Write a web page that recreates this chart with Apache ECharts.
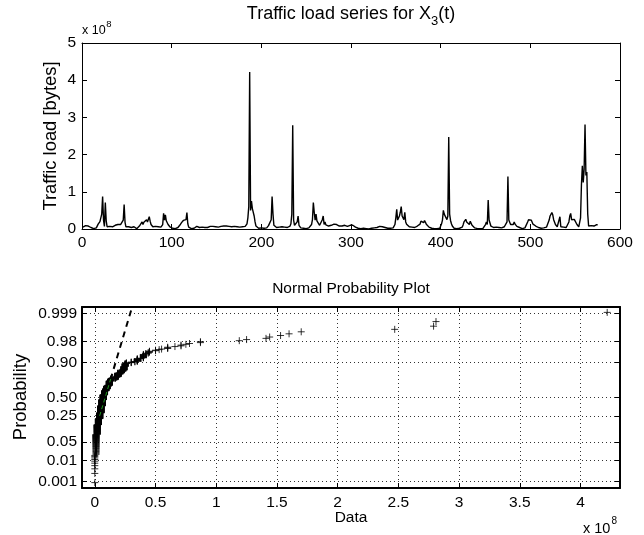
<!DOCTYPE html>
<html><head><meta charset="utf-8">
<script src="https://cdn.jsdelivr.net/npm/echarts@6/dist/echarts.min.js"></script>
<style>html,body{margin:0;padding:0;background:#fff}#c{width:644px;height:535px}</style>
</head><body><div id="c"></div>
<script>
// Traffic load X3(t), in units of 1e8 bytes, t = 1..575
const trafficLoad = [
0.05,0.07,0.08,0.09,0.08,0.07,0.08,0.09,0.06,0.04,
0.01,0.00,0.01,0.01,0.00,0.03,0.08,0.13,0.17,0.20,
0.24,0.40,0.87,0.24,0.07,0.71,0.22,0.06,0.05,0.06,
0.07,0.08,0.07,0.06,0.07,0.09,0.10,0.11,0.12,0.12,
0.13,0.12,0.12,0.12,0.17,0.24,0.66,0.18,0.06,0.03,
0.04,0.06,0.07,0.05,0.04,0.06,0.07,0.06,0.04,0.02,
0.01,0.01,0.03,0.08,0.13,0.13,0.19,0.12,0.18,0.22,
0.17,0.25,0.19,0.24,0.33,0.21,0.12,0.08,0.06,0.05,
0.06,0.07,0.05,0.04,0.06,0.07,0.06,0.05,0.09,0.12,
0.42,0.24,0.38,0.22,0.19,0.12,0.09,0.06,0.04,0.03,
0.02,0.02,0.03,0.01,0.01,0.02,0.04,0.06,0.10,0.12,
0.17,0.21,0.23,0.24,0.19,0.25,0.44,0.14,0.05,0.03,
0.01,0.01,0.02,0.03,0.02,0.04,0.05,0.07,0.06,0.05,
0.04,0.03,0.04,0.05,0.04,0.03,0.04,0.06,0.05,0.04,
0.05,0.06,0.07,0.06,0.05,0.07,0.06,0.05,0.06,0.07,
0.06,0.05,0.07,0.08,0.07,0.06,0.07,0.08,0.06,0.07,
0.08,0.07,0.06,0.07,0.08,0.07,0.06,0.07,0.06,0.07,
0.08,0.07,0.06,0.07,0.06,0.05,0.06,0.07,0.06,0.07,
0.06,0.07,0.09,0.14,0.30,0.60,4.22,0.50,0.75,0.55,
0.60,0.35,0.19,0.08,0.05,0.03,0.02,0.01,0.02,0.03,
0.02,0.01,0.02,0.03,0.02,0.03,0.05,0.09,0.11,0.12,
0.25,0.87,0.40,0.10,0.06,0.05,0.04,0.05,0.06,0.05,
0.04,0.05,0.06,0.05,0.04,0.05,0.04,0.03,0.04,0.05,
0.06,0.08,0.14,0.40,2.79,0.24,0.10,0.07,0.08,0.19,
0.35,0.10,0.05,0.03,0.02,0.01,0.02,0.03,0.02,0.01,
0.02,0.03,0.03,0.05,0.08,0.12,0.25,0.71,0.45,0.24,
0.40,0.22,0.25,0.19,0.10,0.12,0.13,0.25,0.35,0.12,
0.19,0.11,0.13,0.10,0.08,0.07,0.08,0.10,0.11,0.12,
0.13,0.11,0.12,0.12,0.10,0.09,0.08,0.07,0.09,0.08,
0.07,0.09,0.10,0.12,0.09,0.07,0.06,0.09,0.10,0.08,
0.09,0.10,0.08,0.06,0.05,0.04,0.03,0.02,0.01,0.02,
0.01,0.00,0.01,0.02,0.01,0.00,0.01,0.02,0.01,0.00,
0.01,0.02,0.02,0.01,0.02,0.03,0.04,0.03,0.04,0.05,
0.06,0.07,0.08,0.07,0.06,0.07,0.05,0.04,0.03,0.02,
0.02,0.01,0.01,0.02,0.02,0.02,0.03,0.05,0.12,0.30,
0.53,0.24,0.19,0.35,0.45,0.60,0.35,0.40,0.25,0.45,
0.19,0.13,0.13,0.10,0.06,0.05,0.04,0.05,0.06,0.05,
0.04,0.05,0.06,0.08,0.11,0.12,0.13,0.21,0.18,0.24,
0.17,0.23,0.19,0.13,0.10,0.08,0.05,0.03,0.02,0.02,
0.01,0.01,0.01,0.00,0.01,0.01,0.00,0.01,0.02,0.05,
0.14,0.24,0.50,0.40,0.35,0.40,0.25,0.35,2.47,0.40,
0.23,0.14,0.08,0.05,0.02,0.01,0.01,0.01,0.00,0.01,
0.02,0.02,0.03,0.05,0.11,0.19,0.23,0.26,0.19,0.17,
0.19,0.12,0.21,0.16,0.10,0.07,0.05,0.03,0.02,0.01,
0.01,0.00,0.01,0.01,0.01,0.00,0.01,0.02,0.05,0.12,
0.19,0.12,0.78,0.24,0.19,0.08,0.05,0.04,0.04,0.05,
0.04,0.05,0.04,0.03,0.04,0.05,0.04,0.03,0.04,0.05,
0.06,0.05,0.07,0.19,1.41,0.24,0.19,0.12,0.12,0.12,
0.12,0.19,0.13,0.10,0.07,0.06,0.05,0.04,0.03,0.02,
0.01,0.02,0.02,0.03,0.04,0.08,0.19,0.25,0.26,0.23,
0.24,0.19,0.13,0.12,0.10,0.08,0.06,0.05,0.04,0.03,
0.02,0.02,0.03,0.02,0.03,0.04,0.04,0.05,0.06,0.10,
0.24,0.35,0.40,0.44,0.38,0.25,0.24,0.12,0.08,0.06,
0.05,0.06,0.33,0.06,0.05,0.04,0.05,0.04,0.03,0.04,
0.05,0.08,0.19,0.35,0.42,0.25,0.25,0.24,0.26,0.22,
0.23,0.12,0.10,0.06,0.07,0.30,1.19,1.70,1.25,1.60,
2.81,1.44,1.53,0.40,0.08,0.06,0.07,0.09,0.10,0.09,
0.08,0.09,0.10,0.12,0.10
];
const timeTicks = [0,100,200,300,400,500,600];
const loadTicks = [0,1,2,3,4,5];
const probTicks = [0.001,0.01,0.05,0.25,0.50,0.90,0.98,0.999];
const probTickLabels = ['0.001','0.01','0.05','0.25','0.50','0.90','0.98','0.999'];
const dataTicks = [0,0.5,1,1.5,2,2.5,3,3.5,4];

const FONT = '"Liberation Sans", Arial, Helvetica, sans-serif';
const TICK_FS = 15.5;

function norminv(p){
  const a=[-3.969683028665376e+01,2.209460984245205e+02,-2.759285104469687e+02,1.383577518672690e+02,-3.066479806614716e+01,2.506628277459239e+00];
  const b=[-5.447609879822406e+01,1.615858368580409e+02,-1.556989798598866e+02,6.680131188771972e+01,-1.328068155288572e+01];
  const c=[-7.784894002430293e-03,-3.223964580411365e-01,-2.400758277161838e+00,-2.549732539343734e+00,4.374664141464968e+00,2.938163982698783e+00];
  const d=[7.784695709041462e-03,3.224671290700398e-01,2.445134137142996e+00,3.754408661907416e+00];
  const pl=0.02425, ph=1-pl; let q,r;
  if(p<pl){q=Math.sqrt(-2*Math.log(p));return (((((c[0]*q+c[1])*q+c[2])*q+c[3])*q+c[4])*q+c[5])/((((d[0]*q+d[1])*q+d[2])*q+d[3])*q+1);}
  if(p<=ph){q=p-0.5;r=q*q;return (((((a[0]*r+a[1])*r+a[2])*r+a[3])*r+a[4])*r+a[5])*q/(((((b[0]*r+b[1])*r+b[2])*r+b[3])*r+b[4])*r+1);}
  q=Math.sqrt(-2*Math.log(1-p));return -(((((c[0]*q+c[1])*q+c[2])*q+c[3])*q+c[4])*q+c[5])/((((d[0]*q+d[1])*q+d[2])*q+d[3])*q+1);
}

// normal probability plot from the series
const sorted = trafficLoad.slice().sort((x,y)=>x-y);
const n = sorted.length;
const probPoints = sorted.map((v,i)=>[v, norminv((i+0.5)/n)]);
function prctile(P){
  let pos = P/100*n + 0.5;
  if(pos<=1) return sorted[0]; if(pos>=n) return sorted[n-1];
  const lo=Math.floor(pos), f=pos-lo;
  return sorted[lo-1]*(1-f)+sorted[lo]*f;
}
const q1=prctile(25), q3=prctile(75), zq1=norminv(0.25), zq3=norminv(0.75);
const slope=(zq3-zq1)/(q3-q1);
const zOf = x => zq1 + (x-q1)*slope;
const dmin=sorted[0], dmax=sorted[n-1], rng=dmax-dmin;
const xMin2=dmin-0.025*rng, xMax2=dmax+0.025*rng;
const yLim2 = -norminv(0.25/n);
const probZ = probTicks.map(norminv);

function labelForZ(v){
  let best=0, bd=1e9;
  probZ.forEach((z,i)=>{const dd=Math.abs(z-v); if(dd<bd){bd=dd;best=i;}});
  return probTickLabels[best];
}

const mctx = document.createElement('canvas').getContext('2d');
function tw(t, size){ mctx.font = size+'px "Liberation Sans", Arial, sans-serif'; return mctx.measureText(t).width; }
function txt(t, x, y, size, align){
  return {type:'text',x:x,y:y,silent:true,style:{text:t,align:align||'left',verticalAlign:'middle',fontSize:size,fontFamily:FONT,fill:'#000'}};
}
function vtxt(t, x, y, size){
  return {type:'text',x:x,y:y,rotation:Math.PI/2,silent:true,style:{text:t,align:'center',verticalAlign:'middle',fontSize:size,fontFamily:FONT,fill:'#000'}};
}

function ax(extra, lw){
  return Object.assign({
    axisLine:{show:true,onZero:false,lineStyle:{color:'#000',width:lw||1}},
    axisTick:{show:true,inside:true,length:5,lineStyle:{color:'#000',width:1}},
    axisLabel:{show:true,color:'#000',fontSize:TICK_FS,fontFamily:FONT},
    splitLine:{show:false}
  }, extra);
}
const gridDots = {show:true,lineStyle:{color:'#333',width:1,type:[1,3]}};

// title pieces
const tMain='Traffic load series for X', tSub='3', tTail='(t)';
const w1=tw(tMain,18), w2=tw(tSub,13), w3=tw(tTail,18);
const tx0 = 351 - (w1+w2+w3)/2;
const e1=tw('x 10',12.5), e2=tw('x 10',14.5);

const option = {
  animation:false,
  backgroundColor:'#fff',
  grid:[
    {left:82, top:43, width:538, height:186},
    {left:82, top:307, width:538, height:181}
  ],
  xAxis:[
    ax({gridIndex:0,type:'value',min:0,max:600,interval:100,position:'bottom',axisLabel:{color:'#000',fontSize:TICK_FS,fontFamily:FONT,margin:6}}),
    ax({gridIndex:0,type:'value',min:0,max:600,interval:100,position:'top',axisLabel:{show:false}}),
    ax({gridIndex:1,type:'value',min:xMin2,max:xMax2,position:'bottom',
        axisTick:{show:true,inside:true,length:5,customValues:dataTicks,lineStyle:{color:'#000'}},
        axisLabel:{show:true,customValues:dataTicks,color:'#000',fontSize:TICK_FS,fontFamily:FONT,margin:7,formatter:v=>String(Math.round(v*10)/10)},
        splitLine:gridDots}, 2),
    ax({gridIndex:1,type:'value',min:xMin2,max:xMax2,position:'top',
        axisTick:{show:true,inside:true,length:5,customValues:dataTicks,lineStyle:{color:'#000'}},
        axisLabel:{show:false}}, 2)
  ],
  yAxis:[
    ax({gridIndex:0,type:'value',min:0,max:5,interval:1,position:'left',axisLabel:{color:'#000',fontSize:TICK_FS,fontFamily:FONT,margin:6}}),
    ax({gridIndex:0,type:'value',min:0,max:5,interval:1,position:'right',axisLabel:{show:false}}),
    ax({gridIndex:1,type:'value',min:-yLim2,max:yLim2,position:'left',
        axisTick:{show:true,inside:true,length:5,customValues:probZ,lineStyle:{color:'#000'}},
        axisLabel:{show:true,customValues:probZ,color:'#000',fontSize:TICK_FS,fontFamily:FONT,margin:5,formatter:v=>labelForZ(v)},
        splitLine:gridDots}, 2),
    ax({gridIndex:1,type:'value',min:-yLim2,max:yLim2,position:'right',
        axisTick:{show:true,inside:true,length:5,customValues:probZ,lineStyle:{color:'#000'}},
        axisLabel:{show:false}}, 2)
  ],
  series:[
    {type:'line',xAxisIndex:0,yAxisIndex:0,data:trafficLoad.map((v,i)=>[i+1,v]),
     showSymbol:false,symbol:'none',lineStyle:{color:'#000',width:1.4},silent:true},
    {type:'scatter',xAxisIndex:2,yAxisIndex:2,data:probPoints,
     symbol:'path://M5,0L5,10M0,5L10,5',symbolSize:7,
     itemStyle:{color:'none',borderColor:'#000',borderWidth:1},silent:true,z:3},
    {type:'line',xAxisIndex:2,yAxisIndex:2,data:[[dmin,zOf(dmin)],[dmax,zOf(dmax)]],
     showSymbol:false,symbol:'none',clip:true,lineStyle:{color:'#000',width:2,type:[6,5]},silent:true,z:4},
    {type:'line',xAxisIndex:2,yAxisIndex:2,data:[[q1,zq1],[q3,zq3]],
     showSymbol:false,symbol:'none',lineStyle:{color:'#1f9a1f',width:1,type:[4,3]},silent:true,z:5}
  ],
  graphic:{elements:[
    txt(tMain, tx0, 14, 18),
    txt(tSub, tx0+w1, 21, 13),
    txt(tTail, tx0+w1+w2, 14, 18),
    txt('x 10', 82, 31, 12.5),
    txt('8', 82+e1+0.5, 24, 9.5),
    vtxt('Traffic load [bytes]', 51, 136, 18.4),
    txt('Normal Probability Plot', 351, 289, 15.5, 'center'),
    vtxt('Probability', 21, 397, 18.5),
    txt('Data', 351, 518, 15.5, 'center'),
    txt('x 10', 583, 529, 14.5),
    txt('8', 583+e2+1, 521, 10)
  ]}
};
const chart = echarts.init(document.getElementById('c'), null, {renderer:'canvas'});
chart.setOption(option);
</script>
</body></html>
